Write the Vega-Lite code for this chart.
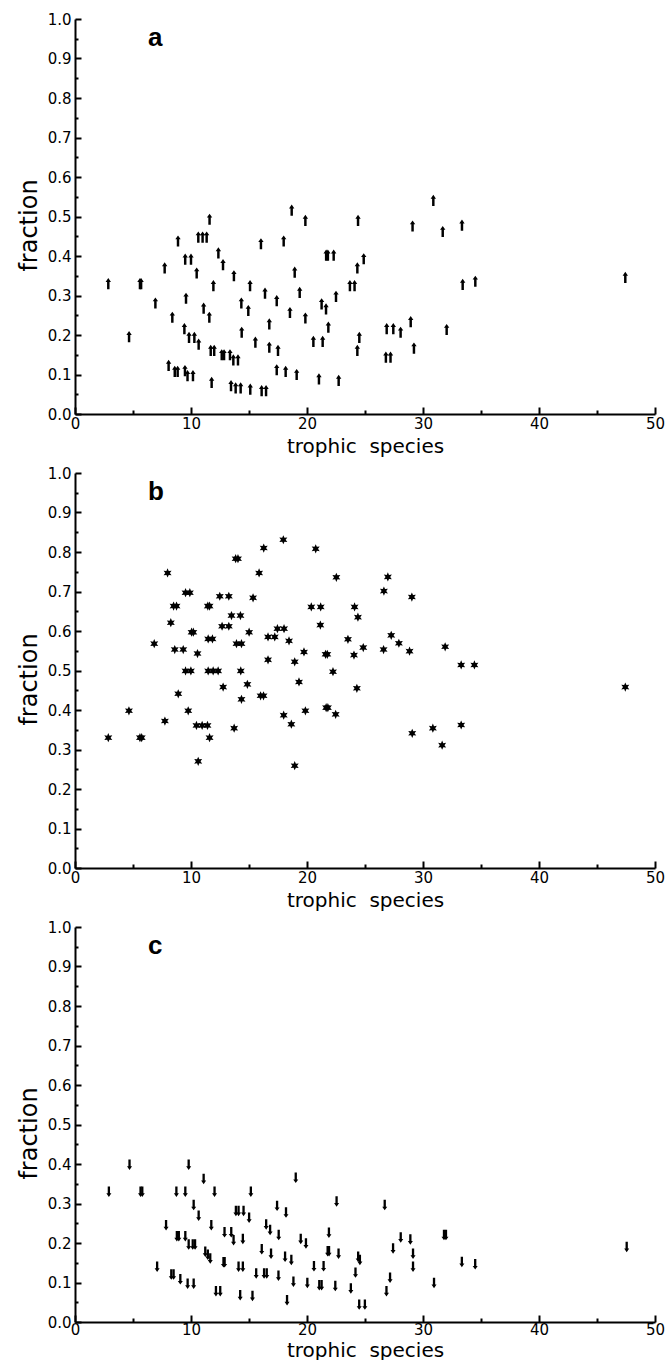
{
  "$schema": "https://vega.github.io/schema/vega-lite/v6.json",
  "padding": {"left": 17, "top": 12, "right": 0, "bottom": 0},
  "spacing": 10,
  "config": {
    "view": {"stroke": null},
    "title": {"font": "Liberation Sans", "fontSize": 26, "fontWeight": "bold", "color": "black", "anchor": "start", "frame": "group", "orient": "top", "baseline": "alphabetic", "align": "left", "dx": 73, "offset": -39},
    "axis": {"labelFont": "DejaVu Sans", "labelFontSize": 15, "labelColor": "black", "titleFont": "DejaVu Sans", "titleFontSize": 24, "titleFontWeight": "normal", "titleColor": "black", "grid": false, "domainColor": "black", "domainWidth": 2, "tickColor": "black", "tickWidth": 2, "labelFlush": false, "labelOverlap": false}
  },
  "datasets": {
    "a": [
      {"species": 2.87, "fraction": 0.33}, {"species": 4.66, "fraction": 0.196}, {"species": 5.6, "fraction": 0.33}, {"species": 5.7, "fraction": 0.33},
      {"species": 6.93, "fraction": 0.281}, {"species": 7.73, "fraction": 0.37}, {"species": 8.39, "fraction": 0.245}, {"species": 8.07, "fraction": 0.123},
      {"species": 8.6, "fraction": 0.108}, {"species": 8.85, "fraction": 0.108}, {"species": 8.88, "fraction": 0.438}, {"species": 9.43, "fraction": 0.216},
      {"species": 9.5, "fraction": 0.392}, {"species": 10.0, "fraction": 0.392}, {"species": 9.57, "fraction": 0.293},
      {"species": 9.48, "fraction": 0.11}, {"species": 9.7, "fraction": 0.097}, {"species": 10.17, "fraction": 0.097},
      {"species": 9.83, "fraction": 0.194}, {"species": 10.29, "fraction": 0.194}, {"species": 10.66, "fraction": 0.177},
      {"species": 10.49, "fraction": 0.357}, {"species": 10.63, "fraction": 0.448}, {"species": 11.0, "fraction": 0.448}, {"species": 11.35, "fraction": 0.448},
      {"species": 11.6, "fraction": 0.493}, {"species": 11.09, "fraction": 0.268}, {"species": 11.58, "fraction": 0.245},
      {"species": 11.7, "fraction": 0.161}, {"species": 12.0, "fraction": 0.161}, {"species": 11.78, "fraction": 0.08}, {"species": 11.93, "fraction": 0.325},
      {"species": 12.36, "fraction": 0.408}, {"species": 12.76, "fraction": 0.378}, {"species": 12.65, "fraction": 0.15}, {"species": 12.85, "fraction": 0.15},
      {"species": 13.36, "fraction": 0.15}, {"species": 13.65, "fraction": 0.137}, {"species": 14.05, "fraction": 0.137}, {"species": 13.7, "fraction": 0.35},
      {"species": 13.45, "fraction": 0.072}, {"species": 13.85, "fraction": 0.066}, {"species": 14.28, "fraction": 0.066},
      {"species": 14.34, "fraction": 0.281}, {"species": 14.94, "fraction": 0.262}, {"species": 14.37, "fraction": 0.207}, {"species": 15.09, "fraction": 0.325},
      {"species": 15.11, "fraction": 0.063}, {"species": 15.55, "fraction": 0.182}, {"species": 16.03, "fraction": 0.431}, {"species": 16.38, "fraction": 0.306},
      {"species": 16.75, "fraction": 0.228}, {"species": 16.75, "fraction": 0.169}, {"species": 16.09, "fraction": 0.059}, {"species": 16.47, "fraction": 0.059},
      {"species": 17.39, "fraction": 0.287}, {"species": 17.5, "fraction": 0.161}, {"species": 17.39, "fraction": 0.112}, {"species": 18.16, "fraction": 0.108},
      {"species": 19.11, "fraction": 0.1}, {"species": 17.99, "fraction": 0.438}, {"species": 18.68, "fraction": 0.516}, {"species": 18.53, "fraction": 0.257},
      {"species": 18.94, "fraction": 0.359}, {"species": 19.37, "fraction": 0.308}, {"species": 19.86, "fraction": 0.49}, {"species": 19.86, "fraction": 0.243},
      {"species": 20.55, "fraction": 0.184}, {"species": 21.03, "fraction": 0.089}, {"species": 21.26, "fraction": 0.279}, {"species": 21.64, "fraction": 0.266},
      {"species": 21.35, "fraction": 0.184}, {"species": 21.84, "fraction": 0.22}, {"species": 21.65, "fraction": 0.402}, {"species": 21.8, "fraction": 0.402},
      {"species": 22.3, "fraction": 0.402}, {"species": 22.5, "fraction": 0.298}, {"species": 22.73, "fraction": 0.085},
      {"species": 23.7, "fraction": 0.325}, {"species": 24.1, "fraction": 0.325}, {"species": 24.34, "fraction": 0.37}, {"species": 24.4, "fraction": 0.49},
      {"species": 24.89, "fraction": 0.393}, {"species": 24.51, "fraction": 0.194}, {"species": 24.34, "fraction": 0.161},
      {"species": 26.87, "fraction": 0.216}, {"species": 27.44, "fraction": 0.216}, {"species": 28.07, "fraction": 0.207},
      {"species": 26.8, "fraction": 0.144}, {"species": 27.2, "fraction": 0.144}, {"species": 28.94, "fraction": 0.234}, {"species": 29.22, "fraction": 0.167},
      {"species": 29.1, "fraction": 0.476}, {"species": 30.89, "fraction": 0.541}, {"species": 31.7, "fraction": 0.462}, {"species": 32.04, "fraction": 0.214},
      {"species": 33.36, "fraction": 0.478}, {"species": 33.42, "fraction": 0.328}, {"species": 34.51, "fraction": 0.336}, {"species": 47.44, "fraction": 0.346}
    ],
    "b": [
      {"species": 2.87, "fraction": 0.33}, {"species": 4.65, "fraction": 0.398}, {"species": 5.6, "fraction": 0.33}, {"species": 5.75, "fraction": 0.33},
      {"species": 6.83, "fraction": 0.568}, {"species": 7.75, "fraction": 0.372}, {"species": 7.98, "fraction": 0.747}, {"species": 8.26, "fraction": 0.621},
      {"species": 8.5, "fraction": 0.663}, {"species": 8.75, "fraction": 0.663}, {"species": 8.6, "fraction": 0.553}, {"species": 9.33, "fraction": 0.553},
      {"species": 8.9, "fraction": 0.441}, {"species": 9.53, "fraction": 0.697}, {"species": 9.9, "fraction": 0.697}, {"species": 9.53, "fraction": 0.499},
      {"species": 9.99, "fraction": 0.499}, {"species": 9.76, "fraction": 0.398}, {"species": 10.05, "fraction": 0.597}, {"species": 10.2, "fraction": 0.597},
      {"species": 10.56, "fraction": 0.543}, {"species": 10.47, "fraction": 0.361}, {"species": 10.96, "fraction": 0.361}, {"species": 11.42, "fraction": 0.361},
      {"species": 10.62, "fraction": 0.27}, {"species": 11.45, "fraction": 0.663}, {"species": 11.6, "fraction": 0.663}, {"species": 11.48, "fraction": 0.58},
      {"species": 11.85, "fraction": 0.58}, {"species": 11.48, "fraction": 0.499}, {"species": 11.91, "fraction": 0.499}, {"species": 12.34, "fraction": 0.499},
      {"species": 11.6, "fraction": 0.33}, {"species": 12.48, "fraction": 0.688}, {"species": 13.26, "fraction": 0.688}, {"species": 12.68, "fraction": 0.612},
      {"species": 13.26, "fraction": 0.612}, {"species": 12.77, "fraction": 0.458}, {"species": 13.49, "fraction": 0.639}, {"species": 14.26, "fraction": 0.639},
      {"species": 13.72, "fraction": 0.354}, {"species": 13.85, "fraction": 0.783}, {"species": 14.05, "fraction": 0.783}, {"species": 13.92, "fraction": 0.568},
      {"species": 14.35, "fraction": 0.568}, {"species": 14.29, "fraction": 0.499}, {"species": 14.35, "fraction": 0.427}, {"species": 14.86, "fraction": 0.465},
      {"species": 15.01, "fraction": 0.597}, {"species": 15.35, "fraction": 0.684}, {"species": 15.87, "fraction": 0.747}, {"species": 16.0, "fraction": 0.436},
      {"species": 16.25, "fraction": 0.436}, {"species": 16.27, "fraction": 0.81}, {"species": 16.64, "fraction": 0.527}, {"species": 16.64, "fraction": 0.585},
      {"species": 17.22, "fraction": 0.585}, {"species": 17.45, "fraction": 0.606}, {"species": 18.02, "fraction": 0.606}, {"species": 17.96, "fraction": 0.831},
      {"species": 17.99, "fraction": 0.387}, {"species": 18.45, "fraction": 0.575}, {"species": 18.65, "fraction": 0.364}, {"species": 18.94, "fraction": 0.522},
      {"species": 18.94, "fraction": 0.259}, {"species": 19.31, "fraction": 0.471}, {"species": 19.74, "fraction": 0.547}, {"species": 19.86, "fraction": 0.398},
      {"species": 20.37, "fraction": 0.661}, {"species": 21.18, "fraction": 0.661}, {"species": 20.75, "fraction": 0.808}, {"species": 21.15, "fraction": 0.615},
      {"species": 21.6, "fraction": 0.541}, {"species": 21.75, "fraction": 0.541}, {"species": 21.65, "fraction": 0.406}, {"species": 21.8, "fraction": 0.406},
      {"species": 22.24, "fraction": 0.497}, {"species": 22.47, "fraction": 0.389}, {"species": 22.53, "fraction": 0.736}, {"species": 23.53, "fraction": 0.579},
      {"species": 24.1, "fraction": 0.661}, {"species": 24.39, "fraction": 0.635}, {"species": 24.05, "fraction": 0.539}, {"species": 24.3, "fraction": 0.455},
      {"species": 24.85, "fraction": 0.558}, {"species": 26.63, "fraction": 0.701}, {"species": 26.97, "fraction": 0.737}, {"species": 26.6, "fraction": 0.553},
      {"species": 27.26, "fraction": 0.589}, {"species": 27.92, "fraction": 0.569}, {"species": 28.84, "fraction": 0.549}, {"species": 29.04, "fraction": 0.686},
      {"species": 29.07, "fraction": 0.341}, {"species": 30.85, "fraction": 0.354}, {"species": 31.65, "fraction": 0.311}, {"species": 31.91, "fraction": 0.56},
      {"species": 33.29, "fraction": 0.514}, {"species": 34.43, "fraction": 0.514}, {"species": 33.29, "fraction": 0.362}, {"species": 47.44, "fraction": 0.458}
    ],
    "c": [
      {"species": 2.92, "fraction": 0.33}, {"species": 4.7, "fraction": 0.398}, {"species": 5.65, "fraction": 0.33}, {"species": 5.8, "fraction": 0.33},
      {"species": 7.08, "fraction": 0.14}, {"species": 7.85, "fraction": 0.245}, {"species": 8.3, "fraction": 0.12}, {"species": 8.5, "fraction": 0.12},
      {"species": 8.74, "fraction": 0.33}, {"species": 9.51, "fraction": 0.33}, {"species": 8.78, "fraction": 0.217}, {"species": 8.95, "fraction": 0.217},
      {"species": 9.08, "fraction": 0.108}, {"species": 9.51, "fraction": 0.217}, {"species": 9.8, "fraction": 0.398}, {"species": 9.71, "fraction": 0.097},
      {"species": 10.23, "fraction": 0.097}, {"species": 9.8, "fraction": 0.196}, {"species": 10.15, "fraction": 0.196}, {"species": 10.35, "fraction": 0.196},
      {"species": 10.23, "fraction": 0.296}, {"species": 10.66, "fraction": 0.269}, {"species": 11.09, "fraction": 0.362}, {"species": 11.23, "fraction": 0.178},
      {"species": 11.45, "fraction": 0.17}, {"species": 11.66, "fraction": 0.161}, {"species": 11.75, "fraction": 0.245}, {"species": 12.03, "fraction": 0.33},
      {"species": 12.15, "fraction": 0.078}, {"species": 12.52, "fraction": 0.078}, {"species": 12.8, "fraction": 0.151}, {"species": 12.9, "fraction": 0.151},
      {"species": 12.89, "fraction": 0.227}, {"species": 13.47, "fraction": 0.227}, {"species": 13.67, "fraction": 0.207}, {"species": 13.87, "fraction": 0.281},
      {"species": 14.1, "fraction": 0.281}, {"species": 14.53, "fraction": 0.281}, {"species": 14.1, "fraction": 0.14}, {"species": 14.47, "fraction": 0.14},
      {"species": 14.24, "fraction": 0.068}, {"species": 14.47, "fraction": 0.21}, {"species": 15.01, "fraction": 0.264}, {"species": 15.16, "fraction": 0.33},
      {"species": 15.3, "fraction": 0.066}, {"species": 15.62, "fraction": 0.123}, {"species": 16.1, "fraction": 0.184}, {"species": 16.3, "fraction": 0.123},
      {"species": 16.53, "fraction": 0.123}, {"species": 16.48, "fraction": 0.247}, {"species": 16.82, "fraction": 0.233}, {"species": 16.9, "fraction": 0.173},
      {"species": 17.42, "fraction": 0.294}, {"species": 17.56, "fraction": 0.22}, {"species": 17.54, "fraction": 0.117}, {"species": 18.19, "fraction": 0.277},
      {"species": 18.11, "fraction": 0.165}, {"species": 18.28, "fraction": 0.055}, {"species": 18.65, "fraction": 0.157}, {"species": 18.83, "fraction": 0.102},
      {"species": 19.03, "fraction": 0.365}, {"species": 19.46, "fraction": 0.21}, {"species": 19.91, "fraction": 0.199}, {"species": 20.03, "fraction": 0.099},
      {"species": 20.6, "fraction": 0.141}, {"species": 21.06, "fraction": 0.093}, {"species": 21.26, "fraction": 0.093}, {"species": 21.43, "fraction": 0.141},
      {"species": 21.89, "fraction": 0.226}, {"species": 21.78, "fraction": 0.179}, {"species": 21.9, "fraction": 0.179}, {"species": 22.44, "fraction": 0.091},
      {"species": 22.55, "fraction": 0.305}, {"species": 22.72, "fraction": 0.173}, {"species": 23.78, "fraction": 0.085}, {"species": 24.18, "fraction": 0.125},
      {"species": 24.41, "fraction": 0.165}, {"species": 24.56, "fraction": 0.157}, {"species": 24.5, "fraction": 0.044}, {"species": 24.99, "fraction": 0.044},
      {"species": 26.7, "fraction": 0.296}, {"species": 26.85, "fraction": 0.078}, {"species": 27.16, "fraction": 0.112}, {"species": 27.42, "fraction": 0.186},
      {"species": 28.08, "fraction": 0.214}, {"species": 28.91, "fraction": 0.209}, {"species": 29.14, "fraction": 0.173}, {"species": 29.14, "fraction": 0.14},
      {"species": 30.95, "fraction": 0.099}, {"species": 31.81, "fraction": 0.22}, {"species": 31.98, "fraction": 0.22}, {"species": 33.35, "fraction": 0.152},
      {"species": 34.5, "fraction": 0.146}, {"species": 47.56, "fraction": 0.19}
    ]
  },
  "vconcat": [
    {
      "width": 580, "height": 395,
      "title": "a",
      "data": {"name": "a"},
      "mark": {"type": "point", "shape": "M0,-1L0.48,-0.3L0.22,-0.3L0.22,1L-0.22,1L-0.22,-0.3L-0.48,-0.3Z", "filled": true, "color": "black", "opacity": 1, "size": 125},
      "encoding": {
        "x": {"field": "species", "type": "quantitative", "scale": {"domain": [0, 50], "nice": false},
          "axis": {"title": "trophic\u00a0 species", "titleFontSize": 20, "values": [0,5,10,15,20,25,30,35,40,45,50], "format": "d", "labelExpr": "datum.value % 10 === 0 ? datum.label : ''", "tickSize": {"condition": {"test": "datum.value % 10 === 0", "value": -7}, "value": -4}, "labelPadding": 9, "titlePadding": 2, "labelOverlap": false}},
        "y": {"field": "fraction", "type": "quantitative", "scale": {"domain": [0, 1], "nice": false},
          "axis": {"title": "fraction", "values": [0,0.05,0.1,0.15,0.2,0.25,0.3,0.35,0.4,0.45,0.5,0.55,0.6,0.65,0.7,0.75,0.8,0.85,0.9,0.95,1], "labelExpr": "round(datum.value*20) % 2 === 0 ? format(datum.value, '.1f') : ''", "tickSize": {"condition": {"test": "round(datum.value*20) % 2 === 0", "value": -6}, "value": -3}, "labelPadding": 10, "titlePadding": 6, "titleY": 206, "labelOverlap": false}}
      }
    },
    {
      "width": 580, "height": 395,
      "title": "b",
      "data": {"name": "b"},
      "mark": {"type": "point", "shape": "M0,-1L0.25,-0.433L0.866,-0.5L0.5,0L0.866,0.5L0.25,0.433L0,1L-0.25,0.433L-0.866,0.5L-0.5,0L-0.866,-0.5L-0.25,-0.433Z", "filled": true, "color": "black", "opacity": 1, "size": 85},
      "encoding": {
        "x": {"field": "species", "type": "quantitative", "scale": {"domain": [0, 50], "nice": false},
          "axis": {"title": "trophic\u00a0 species", "titleFontSize": 20, "values": [0,5,10,15,20,25,30,35,40,45,50], "format": "d", "labelExpr": "datum.value % 10 === 0 ? datum.label : ''", "tickSize": {"condition": {"test": "datum.value % 10 === 0", "value": -7}, "value": -4}, "labelPadding": 9, "titlePadding": 2, "labelOverlap": false}},
        "y": {"field": "fraction", "type": "quantitative", "scale": {"domain": [0, 1], "nice": false},
          "axis": {"title": "fraction", "values": [0,0.05,0.1,0.15,0.2,0.25,0.3,0.35,0.4,0.45,0.5,0.55,0.6,0.65,0.7,0.75,0.8,0.85,0.9,0.95,1], "labelExpr": "round(datum.value*20) % 2 === 0 ? format(datum.value, '.1f') : ''", "tickSize": {"condition": {"test": "round(datum.value*20) % 2 === 0", "value": -6}, "value": -3}, "labelPadding": 10, "titlePadding": 6, "titleY": 206, "labelOverlap": false}}
      }
    },
    {
      "width": 580, "height": 395,
      "title": "c",
      "data": {"name": "c"},
      "mark": {"type": "point", "shape": "M0,1L0.48,0.3L0.22,0.3L0.22,-1L-0.22,-1L-0.22,0.3L-0.48,0.3Z", "filled": true, "color": "black", "opacity": 1, "size": 110},
      "encoding": {
        "x": {"field": "species", "type": "quantitative", "scale": {"domain": [0, 50], "nice": false},
          "axis": {"title": "trophic\u00a0 species", "titleFontSize": 20, "values": [0,5,10,15,20,25,30,35,40,45,50], "format": "d", "labelExpr": "datum.value % 10 === 0 ? datum.label : ''", "tickSize": {"condition": {"test": "datum.value % 10 === 0", "value": -7}, "value": -4}, "labelPadding": 7, "titlePadding": 0, "labelOverlap": false}},
        "y": {"field": "fraction", "type": "quantitative", "scale": {"domain": [0, 1], "nice": false},
          "axis": {"title": "fraction", "values": [0,0.05,0.1,0.15,0.2,0.25,0.3,0.35,0.4,0.45,0.5,0.55,0.6,0.65,0.7,0.75,0.8,0.85,0.9,0.95,1], "labelExpr": "round(datum.value*20) % 2 === 0 ? format(datum.value, '.1f') : ''", "tickSize": {"condition": {"test": "round(datum.value*20) % 2 === 0", "value": -6}, "value": -3}, "labelPadding": 10, "titlePadding": 6, "titleY": 206, "labelOverlap": false}}
      }
    }
  ]
}
